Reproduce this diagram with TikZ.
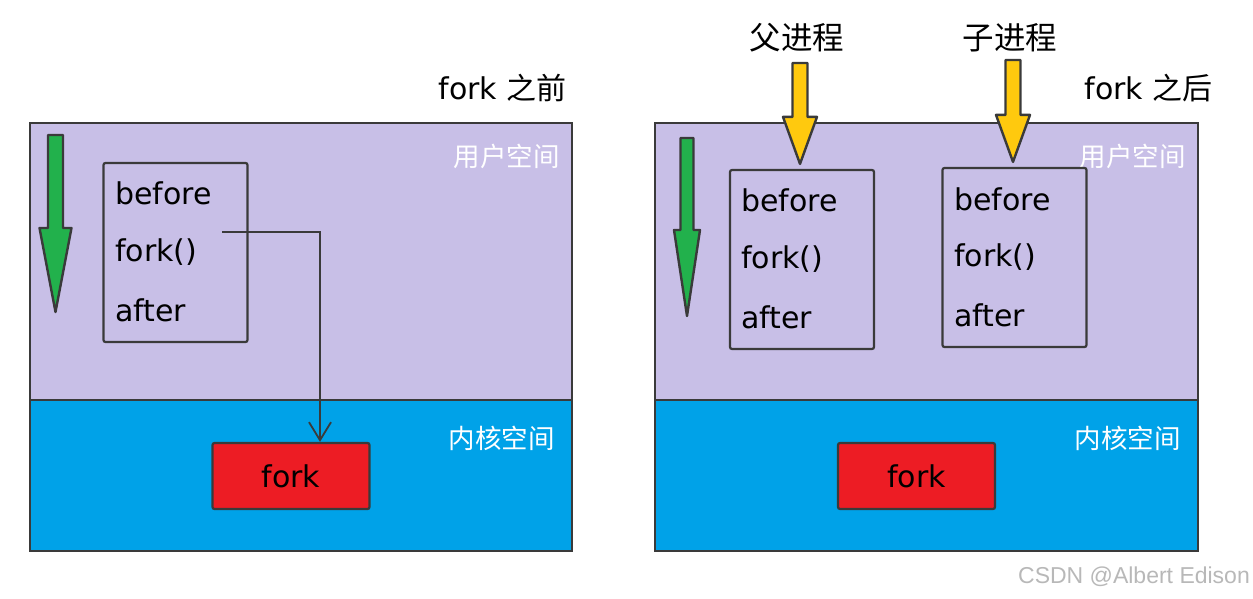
\documentclass[tikz,border=0pt]{standalone}
\usepackage{fontspec}
\setmainfont{DejaVu Sans}
\newfontfamily\cjkfont{Noto Sans CJK SC}
\newfontfamily\markfont{Liberation Sans}
\usetikzlibrary{positioning,calc,arrows.meta}

\definecolor{userpurple}{HTML}{C8BFE7}
\definecolor{kernelblue}{HTML}{00A2E8}
\definecolor{forkred}{HTML}{ED1C24}
\definecolor{flowgreen}{HTML}{22B14C}
\definecolor{procyellow}{HTML}{FFC90E}
\definecolor{sketch}{HTML}{3A3A3A}

\tikzset{
  sketchline/.style={draw=sketch,line width=2.2pt},
  fatshape/.style={draw=sketch,line width=2.4pt,line join=round},
  codebox/.style={sketchline,rounded corners=2pt,minimum width=144pt,minimum height=179pt},
  codeline/.style={anchor=west,inner sep=0pt,font=\fontsize{30}{31}\selectfont},
  forkbox/.style={sketchline,fill=forkred,rounded corners=2pt,minimum width=157pt,
    minimum height=66pt,font=\fontsize{30}{31}\selectfont},
  spacelabel/.style={inner sep=0pt,text=white,font=\cjkfont\fontsize{26.5}{28}\selectfont},
  titlelabel/.style={inner sep=0pt,anchor=east,font=\fontsize{30}{31}\selectfont},
  proclabel/.style={inner sep=0pt,font=\cjkfont\fontsize{31.5}{33}\selectfont}
}

% fat downward arrow: fill, top, tip, shaft half width, head half width, head length
\newcommand{\fatdown}[6]{%
  \draw[fatshape,fill=#1] let \p1=(#2), \p2=(#3) in
    (\x1-#4pt,\y1) -- (\x1+#4pt,\y1) -- (\x1+#4pt,\y2+#6pt) -- (\x1+#5pt,\y2+#6pt)
    -- (\x1,\y2) -- (\x1-#5pt,\y2+#6pt) -- (\x1-#4pt,\y2+#6pt) -- cycle;}

\begin{document}
\begin{tikzpicture}[x=1pt,y=-1pt]
  \useasboundingbox (0,0) rectangle (1253,598);

  % ---- before fork
  \fill[userpurple] (30,123) rectangle (572,400);
  \fill[kernelblue] (30,400) rectangle (572,551);
  \draw[sketchline] (30,400) -- (572,400);
  \draw[sketchline] (30,123) rectangle (572,551);
  \node[titlelabel] (titleL) at (567,88) {fork {\cjkfont 之前}};
  \node[spacelabel,anchor=east] (userL) at (560,156) {用户空间};
  \node[spacelabel,anchor=east] (kernL) at (555,438) {内核空间};

  \coordinate (flowtopL) at (55.5,135);
  \coordinate (flowtipL) at (55.5,312);
  \fatdown{flowgreen}{flowtopL}{flowtipL}{7.5}{16}{84}

  \node[codebox] (boxL) at (175.5,252.5) {};
  \node[codeline] (beforeL) at (115,193) {before};
  \node[codeline] (callL) at (115,252) {fork()};
  \node[codeline] (afterL) at (115,310) {after};

  \node[forkbox] (kforkL) at (291,476) {fork};
  \coordinate (callout) at (222,232);
  \draw[sketchline,line width=1.8pt,-{Straight Barb[length=18pt,width=22pt,line width=1.8pt]}]
    (callout) -| ([xshift=29pt]kforkL.north);

  % ---- after fork
  \fill[userpurple] (655,123) rectangle (1198,400);
  \fill[kernelblue] (655,400) rectangle (1198,551);
  \draw[sketchline] (655,400) -- (1198,400);
  \draw[sketchline] (655,123) rectangle (1198,551);
  \node[titlelabel] (titleR) at (1213,88) {fork {\cjkfont 之后}};
  \node[spacelabel,anchor=east] (userR) at (1186,156) {用户空间};
  \node[spacelabel,anchor=east] (kernR) at (1181,438) {内核空间};

  \coordinate (flowtopR) at (687,138);
  \coordinate (flowtipR) at (687,316);
  \fatdown{flowgreen}{flowtopR}{flowtipR}{6.5}{13}{86}

  \node[codebox] (parentbox) at (802,259.5) {};
  \node[codeline] (beforeP) at (741,200) {before};
  \node[codeline] (callP) at (741,259) {fork()};
  \node[codeline] (afterP) at (741,317) {after};

  \node[codebox] (childbox) at (1014.5,257.5) {};
  \node[codeline] (beforeC) at (954,199) {before};
  \node[codeline] (callC) at (954,257) {fork()};
  \node[codeline] (afterC) at (954,315) {after};

  \node[forkbox] (kforkR) at (916.5,476) {fork};

  \node[proclabel] (parentlbl) at (797,38) {父进程};
  \node[proclabel] (childlbl) at (1010,38) {子进程};
  \coordinate (ptop) at (800,63);
  \coordinate (ptip) at ([yshift=5pt]parentbox.north -| ptop);
  \fatdown{procyellow}{ptop}{ptip}{7.5}{17}{47}
  \coordinate (ctop) at (1013,60);
  \coordinate (ctip) at ([yshift=5pt]childbox.north -| ctop);
  \fatdown{procyellow}{ctop}{ctip}{7.5}{17}{47}

  \node[inner sep=0pt,text=black!28,font=\markfont\fontsize{23}{24}\selectfont]
    (mark) at (1134,577) {CSDN @Albert Edison};
\end{tikzpicture}
\end{document}
